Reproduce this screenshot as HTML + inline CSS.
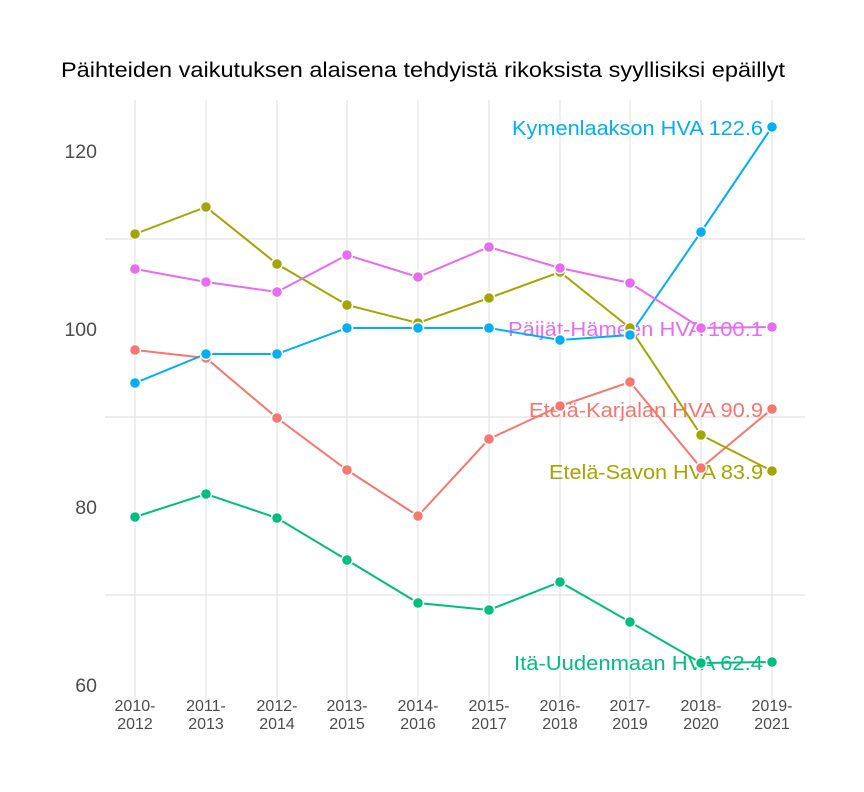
<!DOCTYPE html>
<html><head><meta charset="utf-8"><style>
body{margin:0;background:#fff;}
svg{display:block;font-family:"Liberation Sans",sans-serif;}
</style></head><body>
<svg width="864" height="792" viewBox="0 0 864 792">
<rect width="864" height="792" fill="#fff"/>
<text x="61" y="77" font-size="21" textLength="724" lengthAdjust="spacingAndGlyphs" fill="#000">Päihteiden vaikutuksen alaisena tehdyistä rikoksista syyllisiksi epäillyt</text>
<g stroke="#dedede" stroke-width="1">
<line x1="105" x2="805" y1="239" y2="239"/><line x1="105" x2="805" y1="417" y2="417"/><line x1="105" x2="805" y1="595" y2="595"/>
<line x1="135" x2="135" y1="100" y2="700"/><line x1="206" x2="206" y1="100" y2="700"/><line x1="277" x2="277" y1="100" y2="700"/><line x1="347" x2="347" y1="100" y2="700"/><line x1="418" x2="418" y1="100" y2="700"/><line x1="489" x2="489" y1="100" y2="700"/><line x1="560" x2="560" y1="100" y2="700"/><line x1="630" x2="630" y1="100" y2="700"/><line x1="701" x2="701" y1="100" y2="700"/><line x1="772" x2="772" y1="100" y2="700"/>
</g>
<g font-size="19.5" fill="#4d4d4d" text-anchor="end">
<text x="97" y="158">120</text><text x="97" y="336">100</text><text x="97" y="514">80</text><text x="97" y="692">60</text>
</g>
<g font-size="16" fill="#4d4d4d" text-anchor="middle">
<text x="135" y="711">2010-</text><text x="135" y="729">2012</text>
<text x="206" y="711">2011-</text><text x="206" y="729">2013</text>
<text x="277" y="711">2012-</text><text x="277" y="729">2014</text>
<text x="347" y="711">2013-</text><text x="347" y="729">2015</text>
<text x="418" y="711">2014-</text><text x="418" y="729">2016</text>
<text x="489" y="711">2015-</text><text x="489" y="729">2017</text>
<text x="560" y="711">2016-</text><text x="560" y="729">2018</text>
<text x="630" y="711">2017-</text><text x="630" y="729">2019</text>
<text x="701" y="711">2018-</text><text x="701" y="729">2020</text>
<text x="772" y="711">2019-</text><text x="772" y="729">2021</text>
</g>
<g font-size="20" lengthAdjust="spacingAndGlyphs">
<text x="512" y="135" textLength="251" lengthAdjust="spacingAndGlyphs" fill="#00B0F6">Kymenlaakson HVA 122.6</text>
<text x="508" y="336" textLength="255" lengthAdjust="spacingAndGlyphs" fill="#E76BF3">Päijät-Hämeen HVA 100.1</text>
<text x="529" y="417" textLength="234" lengthAdjust="spacingAndGlyphs" fill="#F8766D">Etelä-Karjalan HVA 90.9</text>
<text x="549" y="479" textLength="214" lengthAdjust="spacingAndGlyphs" fill="#A3A500">Etelä-Savon HVA 83.9</text>
<text x="514" y="670" textLength="249" lengthAdjust="spacingAndGlyphs" fill="#00BF7D">Itä-Uudenmaan HVA 62.4</text>
</g>
<g fill="none" stroke-width="2">
<polyline stroke="#F8766D" points="135,350 206,358 277,418 347,470 418,516 489,439 560,406 630,382 701,468 772,409"/>
<polyline stroke="#A3A500" points="135,234 206,207 277,264 347,305 418,323 489,298 560,272 630,328 701,435 772,471"/>
<polyline stroke="#00BF7D" points="135,517 206,494 277,518 347,560 418,603 489,610 560,582 630,622 701,663 772,662"/>
<polyline stroke="#00B0F6" points="135,383 206,354 277,354 347,328 418,328 489,328 560,340 630,335 701,232 772,127"/>
<polyline stroke="#E76BF3" points="135,269 206,282 277,292 347,255 418,277 489,247 560,268 630,283 701,328 772,327"/>
</g>
<g stroke="#fff" stroke-width="1.5">
<g fill="#F8766D"><circle cx="135" cy="350" r="5.5"/><circle cx="206" cy="358" r="5.5"/><circle cx="277" cy="418" r="5.5"/><circle cx="347" cy="470" r="5.5"/><circle cx="418" cy="516" r="5.5"/><circle cx="489" cy="439" r="5.5"/><circle cx="560" cy="406" r="5.5"/><circle cx="630" cy="382" r="5.5"/><circle cx="701" cy="468" r="5.5"/><circle cx="772" cy="409" r="5.5"/></g>
<g fill="#A3A500"><circle cx="135" cy="234" r="5.5"/><circle cx="206" cy="207" r="5.5"/><circle cx="277" cy="264" r="5.5"/><circle cx="347" cy="305" r="5.5"/><circle cx="418" cy="323" r="5.5"/><circle cx="489" cy="298" r="5.5"/><circle cx="560" cy="272" r="5.5"/><circle cx="630" cy="328" r="5.5"/><circle cx="701" cy="435" r="5.5"/><circle cx="772" cy="471" r="5.5"/></g>
<g fill="#00BF7D"><circle cx="135" cy="517" r="5.5"/><circle cx="206" cy="494" r="5.5"/><circle cx="277" cy="518" r="5.5"/><circle cx="347" cy="560" r="5.5"/><circle cx="418" cy="603" r="5.5"/><circle cx="489" cy="610" r="5.5"/><circle cx="560" cy="582" r="5.5"/><circle cx="630" cy="622" r="5.5"/><circle cx="701" cy="663" r="5.5"/><circle cx="772" cy="662" r="5.5"/></g>
<g fill="#E76BF3"><circle cx="135" cy="269" r="5.5"/><circle cx="206" cy="282" r="5.5"/><circle cx="277" cy="292" r="5.5"/><circle cx="347" cy="255" r="5.5"/><circle cx="418" cy="277" r="5.5"/><circle cx="489" cy="247" r="5.5"/><circle cx="560" cy="268" r="5.5"/><circle cx="630" cy="283" r="5.5"/><circle cx="701" cy="328" r="5.5"/><circle cx="772" cy="327" r="5.5"/></g>
<g fill="#00B0F6"><circle cx="135" cy="383" r="5.5"/><circle cx="206" cy="354" r="5.5"/><circle cx="277" cy="354" r="5.5"/><circle cx="347" cy="328" r="5.5"/><circle cx="418" cy="328" r="5.5"/><circle cx="489" cy="328" r="5.5"/><circle cx="560" cy="340" r="5.5"/><circle cx="630" cy="335" r="5.5"/><circle cx="701" cy="232" r="5.5"/><circle cx="772" cy="127" r="5.5"/></g>
</g>
</svg>
</body></html>
